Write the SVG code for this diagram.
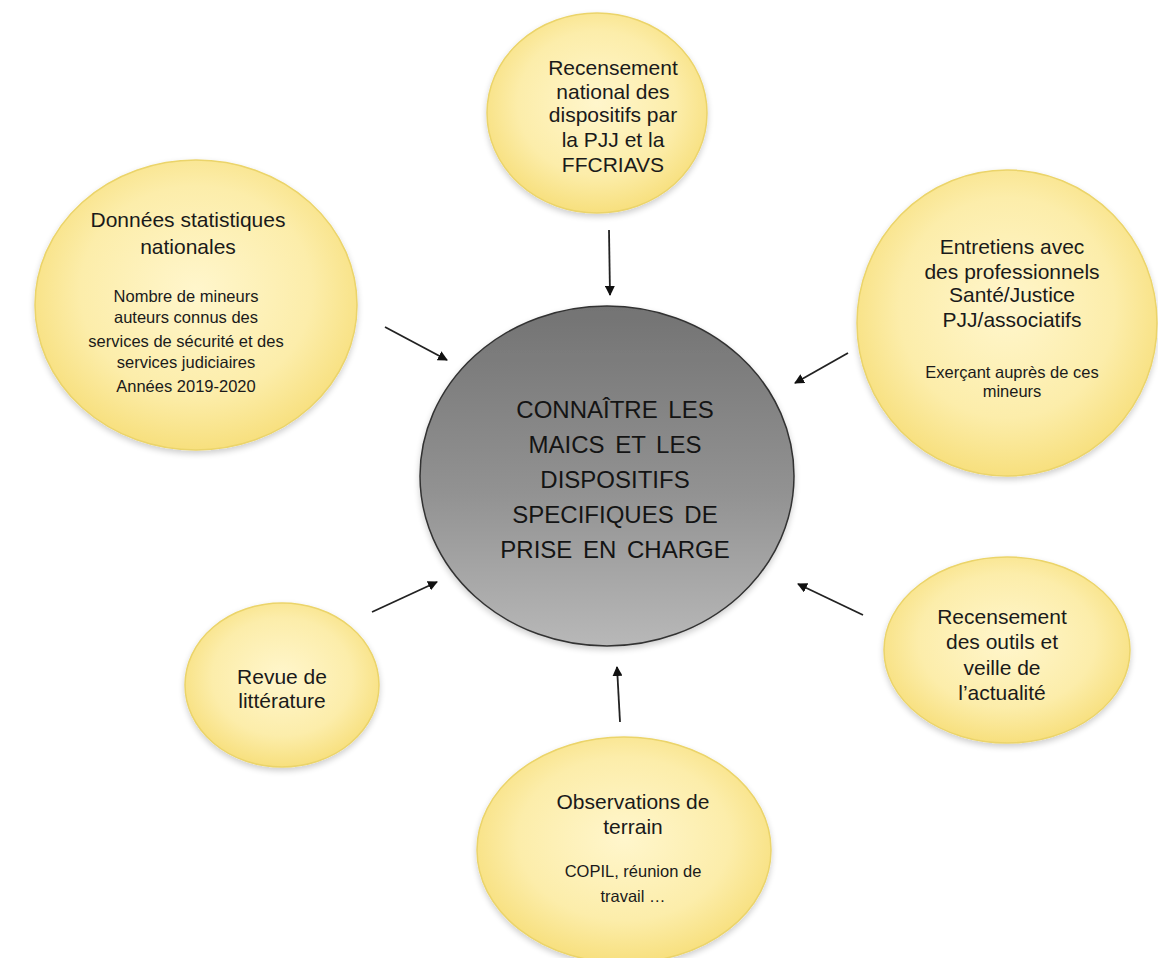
<svg xmlns="http://www.w3.org/2000/svg" width="1158" height="958" viewBox="0 0 1158 958">
<style>
  .node { fill: url(#yel); stroke: #ebd46a; stroke-width: 1.5; }
  .t { font-family: "Liberation Sans", Arial, sans-serif; fill: #1a1a1a; text-anchor: middle; }
  .big { font-size: 21px; }
  .small { font-size: 16.5px; }
  .ctr { font-size: 24px; word-spacing: 4px; fill: #141414; }
  .conn { stroke: #222; stroke-width: 1.8; fill: none; marker-end: url(#ah); }
</style>
<defs>
  <radialGradient id="yel" cx="0.5" cy="0.45" r="0.6">
    <stop offset="0" stop-color="#fff6cc"/>
    <stop offset="0.6" stop-color="#fcedaa"/>
    <stop offset="1" stop-color="#f6dc72"/>
  </radialGradient>
  <linearGradient id="gray" x1="0" y1="0" x2="0" y2="1">
    <stop offset="0" stop-color="#737373"/>
    <stop offset="0.55" stop-color="#929292"/>
    <stop offset="1" stop-color="#b8b8b8"/>
  </linearGradient>
  <marker id="ah" markerWidth="10" markerHeight="10" refX="9" refY="5" orient="auto" markerUnits="userSpaceOnUse">
    <path d="M0,0 L10,5 L0,10 z" fill="#111"/>
  </marker>
  <filter id="sh" x="-10%" y="-10%" width="120%" height="120%">
    <feGaussianBlur in="SourceAlpha" stdDeviation="3"/>
    <feOffset dx="0" dy="3" result="b"/>
    <feComponentTransfer><feFuncA type="linear" slope="0.2"/></feComponentTransfer>
    <feMerge><feMergeNode/><feMergeNode in="SourceGraphic"/></feMerge>
  </filter>
</defs>
<rect width="1158" height="958" fill="#ffffff"/>

<g id="connectors">
  <line class="conn" x1="609" y1="230" x2="610" y2="295"/>
  <line class="conn" x1="385" y1="327" x2="447" y2="360"/>
  <line class="conn" x1="848" y1="353" x2="795" y2="383"/>
  <line class="conn" x1="863" y1="615" x2="798" y2="584"/>
  <line class="conn" x1="620" y1="722" x2="617" y2="667"/>
  <line class="conn" x1="372" y1="612" x2="437" y2="582"/>
</g>

<g id="center">
  <ellipse cx="607" cy="476" rx="187" ry="170" fill="url(#gray)" stroke="#333" stroke-width="1.5" filter="url(#sh)"/>
  <text class="t ctr" x="615" y="418">CONNAÎTRE LES</text>
  <text class="t ctr" x="615" y="453">MAICS ET LES</text>
  <text class="t ctr" x="615" y="488">DISPOSITIFS</text>
  <text class="t ctr" x="615" y="523">SPECIFIQUES DE</text>
  <text class="t ctr" x="615" y="558">PRISE EN CHARGE</text>
</g>

<g id="recensement-national">
  <ellipse class="node" cx="597" cy="113" rx="110" ry="100" filter="url(#sh)"/>
  <text class="t big" x="613" y="75">Recensement</text>
  <text class="t big" x="613" y="99">national des</text>
  <text class="t big" x="613" y="122">dispositifs par</text>
  <text class="t big" x="613" y="147">la PJJ et la</text>
  <text class="t big" x="613" y="172">FFCRIAVS</text>
</g>

<g id="donnees">
  <ellipse class="node" cx="196" cy="305" rx="161" ry="145" filter="url(#sh)"/>
  <text class="t big" x="188" y="227">Données statistiques</text>
  <text class="t big" x="188" y="254">nationales</text>
  <text class="t small" x="186" y="302">Nombre de mineurs</text>
  <text class="t small" x="186" y="323">auteurs connus des</text>
  <text class="t small" x="186" y="347">services de sécurité et des</text>
  <text class="t small" x="186" y="368">services judiciaires</text>
  <text class="t small" x="186" y="392">Années 2019-2020</text>
</g>

<g id="entretiens">
  <ellipse class="node" cx="1007" cy="323" rx="150" ry="153" filter="url(#sh)"/>
  <text class="t big" x="1012" y="254">Entretiens avec</text>
  <text class="t big" x="1012" y="279">des professionnels</text>
  <text class="t big" x="1012" y="302">Santé/Justice</text>
  <text class="t big" x="1012" y="327">PJJ/associatifs</text>
  <text class="t small" x="1012" y="378">Exerçant auprès de ces</text>
  <text class="t small" x="1012" y="397">mineurs</text>
</g>

<g id="recensement-outils">
  <ellipse class="node" cx="1007" cy="650" rx="123" ry="93" filter="url(#sh)"/>
  <text class="t big" x="1002" y="624">Recensement</text>
  <text class="t big" x="1002" y="649">des outils et</text>
  <text class="t big" x="1002" y="675">veille de</text>
  <text class="t big" x="1002" y="700">l’actualité</text>
</g>

<g id="revue">
  <ellipse class="node" cx="282" cy="685" rx="97" ry="82" filter="url(#sh)"/>
  <text class="t big" x="282" y="684">Revue de</text>
  <text class="t big" x="282" y="708">littérature</text>
</g>

<g id="observations">
  <ellipse class="node" cx="624" cy="850" rx="147" ry="113" filter="url(#sh)"/>
  <text class="t big" x="633" y="809">Observations de</text>
  <text class="t big" x="633" y="834">terrain</text>
  <text class="t small" x="633" y="877">COPIL, réunion de</text>
  <text class="t small" x="633" y="902">travail …</text>
</g>
</svg>
